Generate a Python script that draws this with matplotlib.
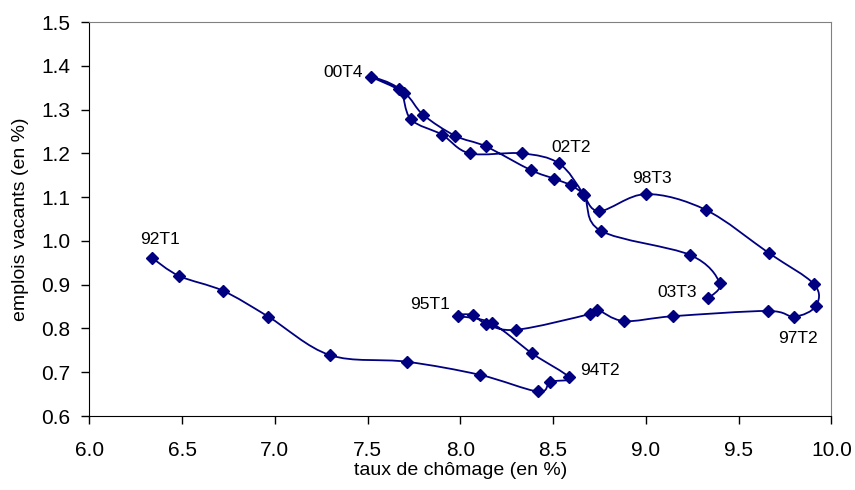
import numpy as np
import matplotlib
matplotlib.use("Agg")
import matplotlib.pyplot as plt
from matplotlib.path import Path
from matplotlib.patches import PathPatch

# taux de chomage (x) and emplois vacants (y), quarterly path
chomage = [6.336, 6.484, 6.721, 6.965, 7.298, 7.711, 8.106, 8.419, 8.485, 8.586,
           8.387, 8.169, 7.990, 8.068, 8.137, 8.302, 8.698, 8.737, 8.881, 9.147,
           9.657, 9.801, 9.916, 9.907, 9.664, 9.323, 9.001, 8.749, 8.660, 8.597,
           8.507, 8.379, 8.137, 7.973, 7.800, 7.698, 7.517, 7.670, 7.733, 7.900,
           8.051, 8.333, 8.532, 8.665, 8.758, 9.238, 9.398, 9.337]
vacants = [0.962, 0.920, 0.886, 0.827, 0.739, 0.724, 0.694, 0.656, 0.678, 0.688,
           0.743, 0.812, 0.829, 0.831, 0.811, 0.797, 0.833, 0.843, 0.817, 0.828,
           0.840, 0.827, 0.851, 0.901, 0.972, 1.071, 1.107, 1.068, 1.108, 1.127,
           1.142, 1.162, 1.216, 1.240, 1.288, 1.338, 1.375, 1.347, 1.278, 1.243,
           1.200, 1.200, 1.177, 1.105, 1.023, 0.968, 0.904, 0.869]

# labelled quarters: index in the series -> text
labels = {0: "92T1", 9: "94T2", 12: "95T1", 21: "97T2", 26: "98T3",
          36: "00T4", 42: "02T2", 47: "03T3"}
# label offsets in pixels (dx, dy, ha)
offsets = {0: (8, 18, "center"), 9: (11, 7, "left"), 12: (-8, 11, "right"),
           21: (4, -22, "center"), 26: (6, 16, "center"), 36: (-8, 4, "right"),
           42: (12, 16, "center"), 47: (-11, 6, "right")}

color = "#000080"
plt.rcParams["font.family"] = ["Liberation Sans", "DejaVu Sans"]

fig = plt.figure(figsize=(8.55, 4.9), dpi=100)
ax = fig.add_axes([0.1044, 0.151, 0.8679, 0.804])

# smoothed line like the spreadsheet one (bezier through the points)
pts = np.column_stack([chomage, vacants])
n = len(pts)
verts = [pts[0]]
codes = [Path.MOVETO]
for i in range(n - 1):
    p0 = pts[max(i - 1, 0)]
    p1 = pts[i]
    p2 = pts[i + 1]
    p3 = pts[min(i + 2, n - 1)]
    c1 = p1 + (p2 - p0) / 6.0
    c2 = p2 - (p3 - p1) / 6.0
    verts += [c1, c2, p2]
    codes += [Path.CURVE4] * 3
ax.add_patch(PathPatch(Path(verts, codes), facecolor="none", edgecolor=color, lw=1.3))
ax.plot(chomage, vacants, ls="none", marker="D", ms=6, color=color)

for i, txt in labels.items():
    dx, dy, ha = offsets[i]
    ax.annotate(txt, (chomage[i], vacants[i]), xytext=(dx * 0.72, dy * 0.72),
                textcoords="offset points", ha=ha, va="center", fontsize=12.5)

ax.set_xlim(6.0, 10.0)
ax.set_ylim(0.6, 1.5)
ax.set_xticks(np.arange(6.0, 10.01, 0.5))
ax.set_yticks(np.arange(0.6, 1.501, 0.1))
ax.xaxis.set_major_formatter(matplotlib.ticker.FormatStrFormatter("%.1f"))
ax.yaxis.set_major_formatter(matplotlib.ticker.FormatStrFormatter("%.1f"))
ax.tick_params(labelsize=15, length=5.5, width=1, direction="out")
ax.tick_params(axis="x", pad=12.5)
ax.tick_params(axis="y", pad=8)
ax.tick_params(top=False, right=False)
for s in ["top", "right"]:
    ax.spines[s].set_color("#808080")
for s in ["left", "bottom"]:
    ax.spines[s].set_color("black")

ax.set_xlabel("taux de chômage (en %)", fontsize=14)
ax.set_ylabel("emplois vacants (en %)", fontsize=14)
ax.xaxis.set_label_coords(0.5, -0.116)
ax.yaxis.set_label_coords(-0.081, 0.5)

fig.savefig("out.png", dpi=100)
